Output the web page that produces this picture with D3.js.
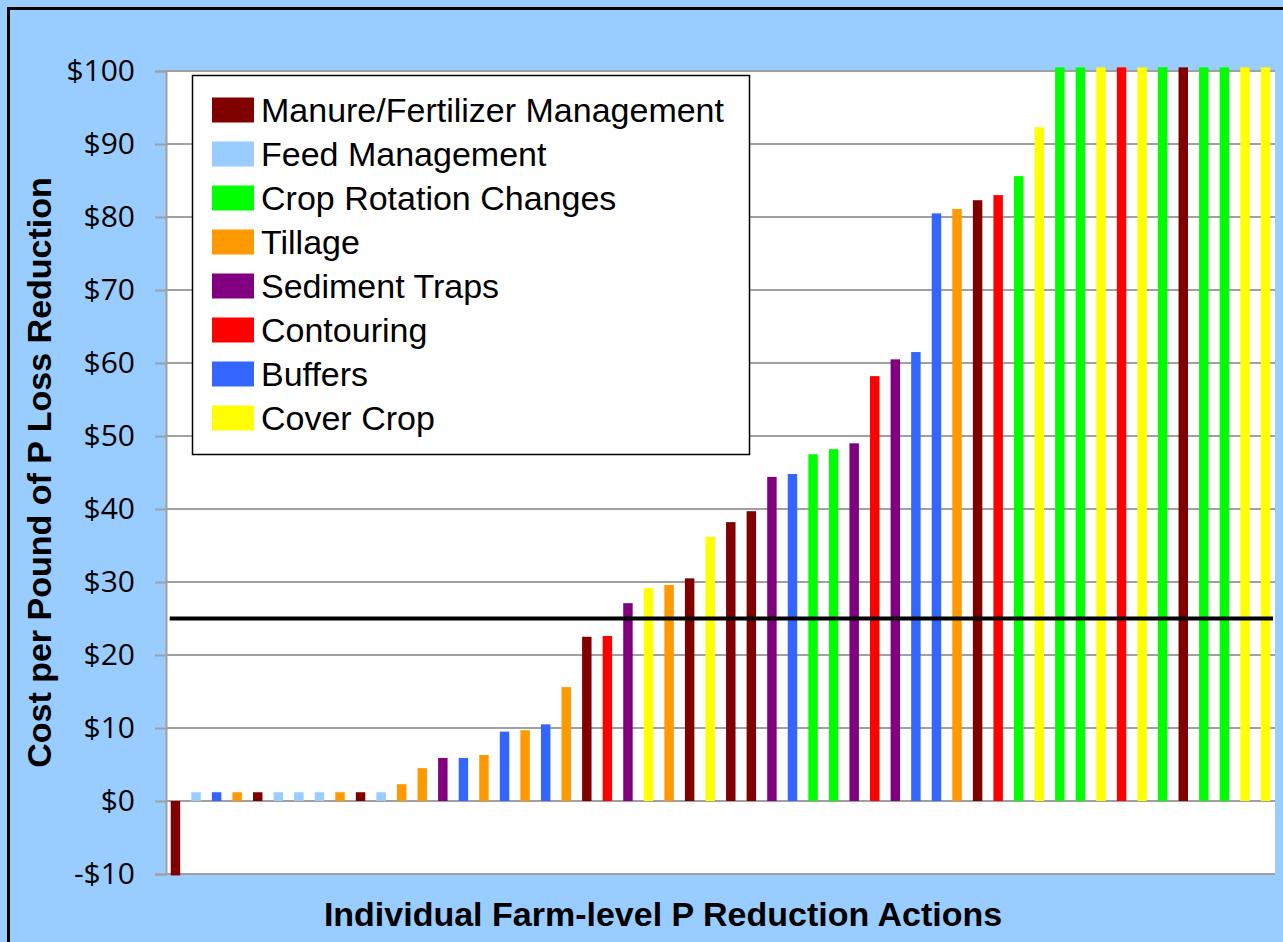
<!DOCTYPE html>
<html>
<head>
<meta charset="utf-8">
<script src="https://cdn.jsdelivr.net/npm/d3@7"></script>
<style>
  html, body { margin: 0; padding: 0; background: #99CCFF; overflow: hidden; }
  svg { display: block; }
</style>
</head>
<body>
<svg id="chart" width="1283" height="942"></svg>
<script>
// ---- data ----
const categories = ["Manure/Fertilizer Management", "Feed Management", "Crop Rotation Changes", "Tillage", "Sediment Traps", "Contouring", "Buffers", "Cover Crop"];
const categoryColors = ["#800000", "#99CCFF", "#00FF00", "#FF9900", "#800080", "#FF0000", "#3366FF", "#FFFF00"];
const barCategory = [
  "Manure/Fertilizer Management", "Feed Management", "Buffers", "Tillage", "Manure/Fertilizer Management",
  "Feed Management", "Feed Management", "Feed Management", "Tillage", "Manure/Fertilizer Management",
  "Feed Management", "Tillage", "Tillage", "Sediment Traps", "Buffers",
  "Tillage", "Buffers", "Tillage", "Buffers", "Tillage",
  "Manure/Fertilizer Management", "Contouring", "Sediment Traps", "Cover Crop", "Tillage",
  "Manure/Fertilizer Management", "Cover Crop", "Manure/Fertilizer Management", "Manure/Fertilizer Management", "Sediment Traps",
  "Buffers", "Crop Rotation Changes", "Crop Rotation Changes", "Sediment Traps", "Contouring",
  "Sediment Traps", "Buffers", "Buffers", "Tillage", "Manure/Fertilizer Management",
  "Contouring", "Crop Rotation Changes", "Cover Crop", "Crop Rotation Changes", "Crop Rotation Changes",
  "Cover Crop", "Contouring", "Cover Crop", "Crop Rotation Changes", "Manure/Fertilizer Management",
  "Crop Rotation Changes", "Crop Rotation Changes", "Cover Crop", "Cover Crop"
];
const barValues = [
  -10.2, 1.2, 1.2, 1.2, 1.2,
  1.2, 1.2, 1.2, 1.2, 1.2,
  1.2, 2.3, 4.5, 5.9, 5.9,
  6.3, 9.5, 9.7, 10.5, 15.6,
  22.5, 22.6, 27.1, 29.2, 29.6,
  30.5, 36.2, 38.2, 39.7, 44.4,
  44.8, 47.5, 48.2, 49.0, 58.2,
  60.5, 61.5, 80.5, 81.1, 82.3,
  83.0, 85.6, 92.3, 100.5, 100.5,
  100.5, 100.5, 100.5, 100.5, 100.5,
  100.5, 100.5, 100.5, 100.5
];
const yTicks = [-10, 0, 10, 20, 30, 40, 50, 60, 70, 80, 90, 100];
const thresholdValue = 25;
const yTitle = "Cost per Pound of P Loss Reduction";
const xTitle = "Individual Farm-level P Reduction Actions";

// ---- layout ----
const svg = d3.select("#chart");
const plot = { left: 166, right: 1275, top: 71, bottom: 874 };

const color = d3.scaleOrdinal().domain(categories).range(categoryColors);
const x = d3.scaleBand()
  .domain(d3.range(barValues.length))
  .range([plot.left, plot.right])
  .paddingInner(0.54)
  .paddingOuter(0.23);
const y = d3.scaleLinear().domain([-10, 100]).range([plot.bottom, plot.top]);

// outer frame
svg.append("rect").attr("x", 0).attr("y", 0).attr("width", 1283).attr("height", 942).attr("fill", "#99CCFF");
svg.append("path").attr("d", "M8.5,942 L8.5,8.5 L1283,8.5")
  .attr("fill", "none").attr("stroke", "#000").attr("stroke-width", 3);

// plot area
svg.append("rect")
  .attr("x", plot.left).attr("y", plot.top)
  .attr("width", plot.right - plot.left).attr("height", plot.bottom - plot.top)
  .attr("fill", "#fff");

// gridlines
svg.append("g").selectAll("line").data(yTicks).join("line")
  .attr("x1", plot.left).attr("x2", plot.right)
  .attr("y1", d => y(d)).attr("y2", d => y(d))
  .attr("stroke", "#A0A0A0").attr("stroke-width", 2);

// y axis
const yAxis = d3.axisLeft(y).tickValues(yTicks).tickSize(11).tickPadding(20)
  .tickFormat(d => (d < 0 ? "-$" : "$") + Math.abs(d));
const gy = svg.append("g").attr("transform", `translate(${plot.left},0)`).call(yAxis);
gy.select(".domain").attr("stroke", "#A0A0A0").attr("stroke-width", 2);
gy.selectAll(".tick line").attr("stroke", "#A0A0A0").attr("stroke-width", 2);
gy.selectAll(".tick text")
  .attr("font-family", "'Open Sans', sans-serif").attr("font-size", 30).attr("fill", "#000");

// bars
svg.append("g").selectAll("rect").data(barValues).join("rect")
  .attr("x", (d, i) => x(i))
  .attr("width", x.bandwidth())
  .attr("y", d => y(Math.max(0, d)))
  .attr("height", d => Math.abs(y(d) - y(0)))
  .attr("fill", (d, i) => color(barCategory[i]));

// threshold line
svg.append("line")
  .attr("x1", x(0) - 1).attr("x2", plot.right - 2)
  .attr("y1", y(thresholdValue)).attr("y2", y(thresholdValue))
  .attr("stroke", "#000").attr("stroke-width", 4);

// legend
const legend = svg.append("g");
legend.append("rect")
  .attr("x", 192.5).attr("y", 75.5).attr("width", 557).attr("height", 379)
  .attr("fill", "#fff").attr("stroke", "#000").attr("stroke-width", 1.5);
const items = legend.selectAll("g.item").data(categories).join("g").attr("class", "item")
  .attr("transform", (d, i) => `translate(0, ${110 + i * 44})`);
items.append("rect")
  .attr("x", 212).attr("y", -12.5).attr("width", 42).attr("height", 25)
  .attr("fill", d => color(d));
items.append("text")
  .attr("x", 261).attr("y", 0).attr("dy", "0.35em")
  .attr("font-family", "Arial, 'Liberation Sans', sans-serif").attr("font-size", 34)
  .attr("fill", "#000").text(d => d);

// axis titles
svg.append("text")
  .attr("transform", `translate(51, ${(plot.top + plot.bottom) / 2}) rotate(-90)`)
  .attr("text-anchor", "middle")
  .attr("font-family", "Arial, 'Liberation Sans', sans-serif").attr("font-weight", "bold").attr("font-size", 34)
  .text(yTitle);
svg.append("text")
  .attr("x", 663).attr("y", 926)
  .attr("text-anchor", "middle")
  .attr("font-family", "Arial, 'Liberation Sans', sans-serif").attr("font-weight", "bold").attr("font-size", 34)
  .text(xTitle);
</script>
</body>
</html>
